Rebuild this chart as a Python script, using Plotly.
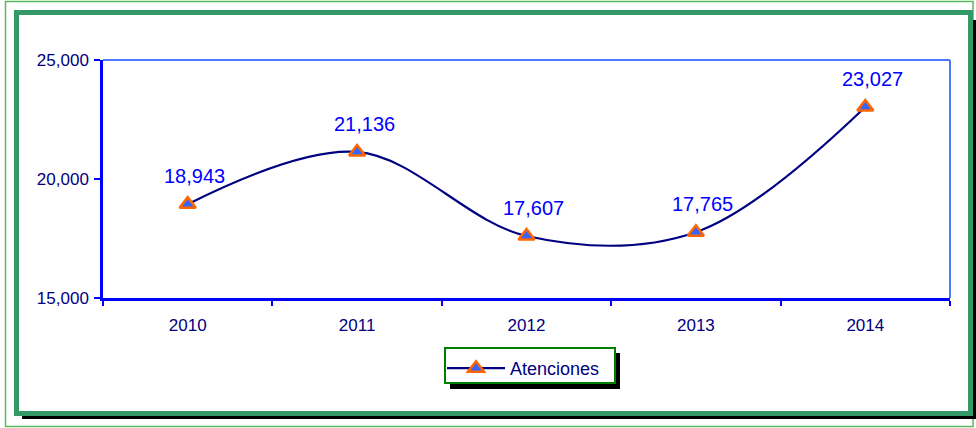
import plotly.graph_objects as go

years = ["2010", "2011", "2012", "2013", "2014"]
atenciones = [18943, 21136, 17607, 17765, 23027]
series_name = "Atenciones"
y_ticks = [15000, 20000, 25000]

W, H = 976, 428
L, R, T, B = 103, 26, 60, 130
PW, PH = W - L - R, H - T - B

def px(x):
    return (x - L) / PW

def py(y):
    return (H - B - y) / PH

FONT = "Arial, Liberation Sans, sans-serif"

fig = go.Figure()
fig.add_trace(go.Scatter(
    x=years, y=atenciones, name=series_name, mode="lines+markers",
    line=dict(color="#000080", width=2.2, shape="spline", smoothing=1.0),
    marker=dict(symbol="triangle-up", size=14, color="#3366FF",
                line=dict(color="#FF6600", width=2.5)),
    cliponaxis=False,
))

annotations = []
for i, v in enumerate(atenciones):
    annotations.append(dict(x=i, y=v, xref="x", yref="y", text=f"{v:,}",
                            showarrow=False, yshift=28, xshift=7,
                            font=dict(family=FONT, size=20, color="#0000FF")))

shapes = [
    # outer thin green frame
    dict(type="rect", xref="paper", yref="paper", x0=px(5.5), x1=px(973), y0=py(1.5), y1=py(426.5),
         line=dict(color="#5CB85C", width=1.5), layer="below"),
    # shadow of inner frame
    dict(type="rect", xref="paper", yref="paper", x0=px(22), x1=px(976), y0=py(20), y1=py(419),
         line=dict(width=0), fillcolor="#000000", layer="below"),
    dict(type="rect", xref="paper", yref="paper", x0=px(14), x1=px(973), y0=py(10), y1=py(416),
         line=dict(width=0), fillcolor="#FFFFFF", layer="below"),
    dict(type="rect", xref="paper", yref="paper", x0=px(16.5), x1=px(970.5), y0=py(12.5), y1=py(413.5),
         line=dict(color="#339966", width=5), layer="below"),
    # plot area top/right edges
    dict(type="line", xref="paper", yref="paper", x0=0, x1=1, y0=1, y1=1,
         line=dict(color="#4D79FF", width=2), layer="below"),
    dict(type="line", xref="paper", yref="paper", x0=1, x1=1, y0=0, y1=1,
         line=dict(color="#4D79FF", width=2), layer="below"),
    # legend box shadow and box
    dict(type="rect", xref="paper", yref="paper", x0=px(450), x1=px(620), y0=py(353), y1=py(389),
         line=dict(width=0), fillcolor="#000000", layer="below"),
    dict(type="rect", xref="paper", yref="paper", x0=px(445), x1=px(615), y0=py(348), y1=py(383),
         line=dict(color="#008000", width=2), fillcolor="#FFFFFF", layer="below"),
]

fig.update_layout(
    width=W, height=H,
    margin=dict(l=L, r=R, t=T, b=B),
    paper_bgcolor="#FFFFFF", plot_bgcolor="rgba(0,0,0,0)",
    font=dict(family=FONT, color="#000080"),
    showlegend=True,
    legend=dict(x=px(442), y=py(350), xanchor="left", yanchor="top",
                bgcolor="rgba(0,0,0,0)", borderwidth=0,
                font=dict(family=FONT, size=18, color="#000080"),
                itemwidth=58),
    annotations=annotations,
    shapes=shapes,
)
fig.update_xaxes(type="category", range=[-0.5, 4.5], showgrid=False,
                 showline=True, linecolor="#0000FF", linewidth=2.5,
                 ticks="outside", tickson="boundaries", ticklen=5, tickcolor="#0000FF",
                 tickwidth=2, ticklabelstandoff=10,
                 tickfont=dict(family=FONT, size=17, color="#000080"))
fig.update_yaxes(range=[15000, 25000], tickvals=y_ticks, tickformat=",",
                 showgrid=False, zeroline=False,
                 showline=True, linecolor="#0000FF", linewidth=2.5,
                 ticks="outside", ticklen=6, tickcolor="#0000FF", tickwidth=2,
                 ticklabelstandoff=2,
                 tickfont=dict(family=FONT, size=17, color="#000080"))

fig.write_html("out.html", config={"displayModeBar": False},
               post_script="document.body.style.margin='0';document.body.style.overflow='hidden';")
